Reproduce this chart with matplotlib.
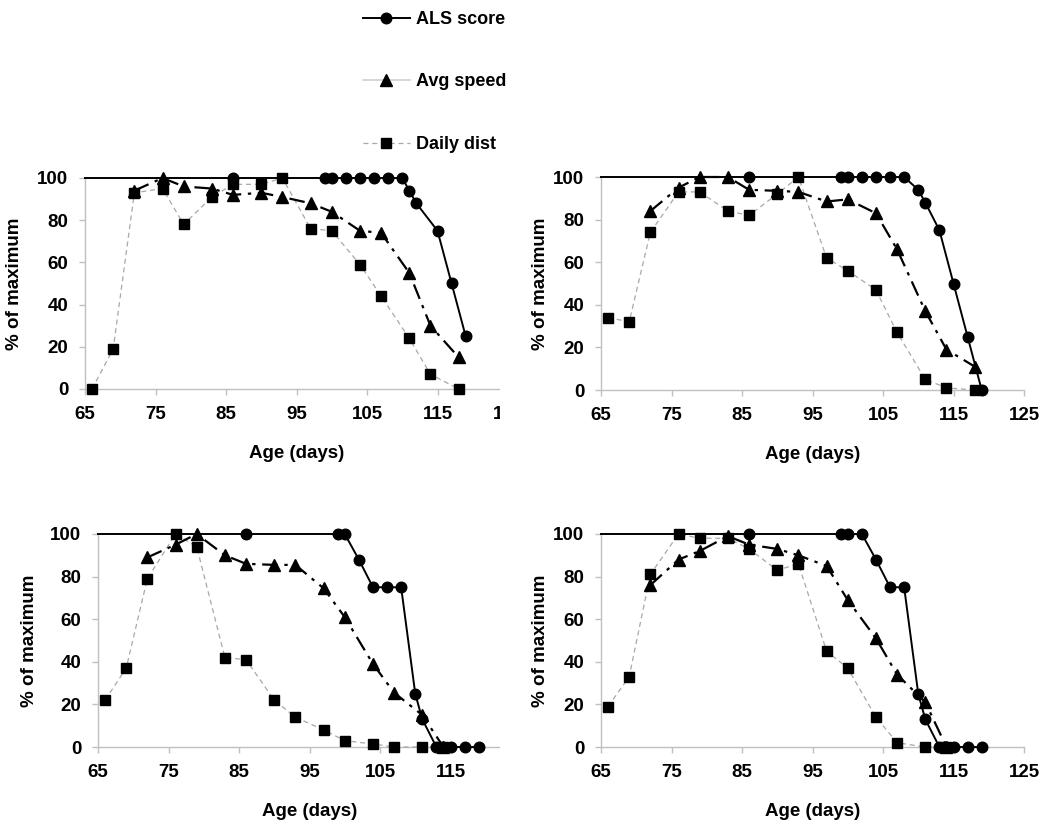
import matplotlib
matplotlib.use("Agg")
import matplotlib.pyplot as plt
from matplotlib.lines import Line2D
from matplotlib.patches import Rectangle

plt.rcParams['font.family'] = ['Liberation Sans', 'DejaVu Sans']
plt.rcParams['font.weight'] = 'bold'

# ---------------- data ----------------
x_ticks = [65, 75, 85, 95, 105, 115, 125]
y_ticks = [0, 20, 40, 60, 80, 100]

# Panel A (top-left)
als_a_days = [65, 86, 99, 100, 102, 104, 106, 108, 110, 111, 112, 115, 117, 119]
als_a_vals = [100, 100, 100, 100, 100, 100, 100, 100, 100, 94, 88, 75, 50, 25]
spd_a_days = [72, 76, 79, 83, 86, 90, 93, 97, 100, 104, 107, 111, 114, 118]
spd_a_vals = [94, 100, 96, 95, 92, 93, 91, 88, 84, 75, 74, 55, 30, 15]
dst_a_days = [66, 69, 72, 76, 79, 83, 86, 90, 93, 97, 100, 104, 107, 111, 114, 118]
dst_a_vals = [0, 19, 93, 95, 78, 91, 97, 97, 100, 76, 75, 59, 44, 24, 7, 0]

# Panel B (top-right)
als_b_days = [65, 86, 99, 100, 102, 104, 106, 108, 110, 111, 113, 115, 117, 119]
als_b_vals = [100, 100, 100, 100, 100, 100, 100, 100, 94, 88, 75, 50, 25, 0]
spd_b_days = [72, 76, 79, 83, 86, 90, 93, 97, 100, 104, 107, 111, 114, 118]
spd_b_vals = [84, 95, 100, 100, 94, 93.5, 93, 88.5, 89.5, 83, 66, 37, 19, 11]
dst_b_days = [66, 69, 72, 76, 79, 83, 86, 90, 93, 97, 100, 104, 107, 111, 114, 118]
dst_b_vals = [34, 32, 74, 93, 93, 84, 82, 92, 100, 62, 56, 47, 27, 5, 1, 0]

# Panel C (bottom-left)
als_c_days = [65, 86, 99, 100, 102, 104, 106, 108, 110, 111, 113, 114, 115, 117, 119]
als_c_vals = [100, 100, 100, 100, 88, 75, 75, 75, 25, 13, 0, 0, 0, 0, 0]
spd_c_days = [72, 76, 79, 83, 86, 90, 93, 97, 100, 104, 107, 111, 114]
spd_c_vals = [89, 95, 100, 90, 86, 85.5, 85.5, 74.5, 61, 39, 25.5, 15, 0]
dst_c_days = [66, 69, 72, 76, 79, 83, 86, 90, 93, 97, 100, 104, 107, 111, 114]
dst_c_vals = [22, 37, 79, 100, 94, 42, 41, 22, 14, 8, 3, 1.4, 0, 0, 0]

# Panel D (bottom-right)
als_d_days = [65, 86, 99, 100, 102, 104, 106, 108, 110, 111, 113, 114, 115, 117, 119]
als_d_vals = [100, 100, 100, 100, 100, 88, 75, 75, 25, 13, 0, 0, 0, 0, 0]
spd_d_days = [72, 76, 79, 83, 86, 90, 93, 97, 100, 104, 107, 111, 114]
spd_d_vals = [76, 88, 92, 99, 95, 93, 90, 85, 69, 51, 34, 21, 0]
dst_d_days = [66, 69, 72, 76, 79, 83, 86, 90, 93, 97, 100, 104, 107, 111, 114]
dst_d_vals = [19, 33, 81, 100, 98, 98, 93, 83, 86, 45, 37, 14, 2, 0, 0]

panels = [
    (als_a_days, als_a_vals, spd_a_days, spd_a_vals, dst_a_days, dst_a_vals),
    (als_b_days, als_b_vals, spd_b_days, spd_b_vals, dst_b_days, dst_b_vals),
    (als_c_days, als_c_vals, spd_c_days, spd_c_vals, dst_c_days, dst_c_vals),
    (als_d_days, als_d_vals, spd_d_days, spd_d_vals, dst_d_days, dst_d_vals),
]

# ---------------- layout ----------------
W, H = 1050, 826
fig = plt.figure(figsize=(W / 100, H / 100), dpi=100)

# (left px, right px, top px (y=100), bottom px (y=0), ylabel right-edge x px)
boxes = [
    (85, 508, 178, 389, 23),
    (601, 1024, 177, 390, 549),
    (98, 521, 534, 747, 38),
    (601, 1024, 534, 747, 549),
]

GRAY = '#c0c0c0'
DIST_C = '#a8a8a8'

axes = []
for (l, r, t, b, ylx), (ad, av, sd, sv, dd, dv) in zip(boxes, panels):
    ax = fig.add_axes([l / W, 1 - b / H, (r - l) / W, (b - t) / H])
    ax.set_xlim(65, 125)
    ax.set_ylim(0, 100)
    ax.plot(dd, dv, color=DIST_C, lw=0.9, ls=(0, (4, 3)), marker='s', ms=7.2,
            mfc='black', mec='black', clip_on=False, zorder=3)
    ax.plot(sd, sv, color='black', lw=1.6, ls=(0, (7, 3, 1.5, 3)), marker='^', ms=8,
            mfc='black', mec='black', clip_on=False, zorder=4)
    ax.plot(ad, av, color='black', lw=1.4, ls='-', marker='o', ms=7.6,
            mfc='black', mec='black', markevery=list(range(1, len(ad))),
            clip_on=False, zorder=5)
    ax.set_xticks(x_ticks)
    ax.set_yticks(y_ticks)
    for side in ['top', 'right']:
        ax.spines[side].set_visible(False)
    for side in ['left', 'bottom']:
        ax.spines[side].set_color(GRAY)
        ax.spines[side].set_linewidth(1.0)
    ax.tick_params(axis='both', colors=GRAY, length=4, width=1, labelcolor='black',
                   labelsize=13.5)
    ax.tick_params(axis='y', pad=8)
    ax.tick_params(axis='x', pad=8)
    for lab in ax.get_xticklabels() + ax.get_yticklabels():
        lab.set_fontweight('bold')
    ax.set_xlabel('Age (days)', fontsize=13.5, fontweight='bold', labelpad=16)
    ax.set_ylabel('% of maximum', fontsize=13.5, fontweight='bold')
    ax.yaxis.set_label_coords((ylx - l) / (r - l), 0.5)
    ax.set_facecolor('none')
    axes.append(ax)

# bottom-left panel: its last tick label lies fully beyond the crop of the reference
axes[2].get_xticklabels()[-1].set_visible(False)

# crop strip (the reference image cuts the left panels at x=500)
fig.add_artist(Rectangle((500 / W, 0), 30 / W, 1 - 150 / H, transform=fig.transFigure,
                         facecolor='white', edgecolor='none', zorder=20))

# ---------------- legend ----------------
handles = [
    Line2D([], [], color='black', lw=1.4, marker='o', ms=7.6, mfc='black', mec='black'),
    Line2D([], [], color='#cfcfcf', lw=1.2, marker='^', ms=8, mfc='black', mec='black'),
    Line2D([], [], color=DIST_C, lw=0.9, ls=(0, (4, 3)), marker='s', ms=7.2,
           mfc='black', mec='black'),
]
labels = ['ALS score', 'Avg speed', 'Daily dist']
leg = fig.legend(handles, labels, loc='upper left', bbox_to_anchor=(363 / W, 1 - 11 / H),
                 frameon=False, fontsize=13, labelspacing=2.52, handlelength=2.6,
                 handletextpad=0.35, borderpad=0, borderaxespad=0, numpoints=1)
for txt in leg.get_texts():
    txt.set_fontweight('bold')

fig.savefig('out.png', dpi=100, facecolor='white')
